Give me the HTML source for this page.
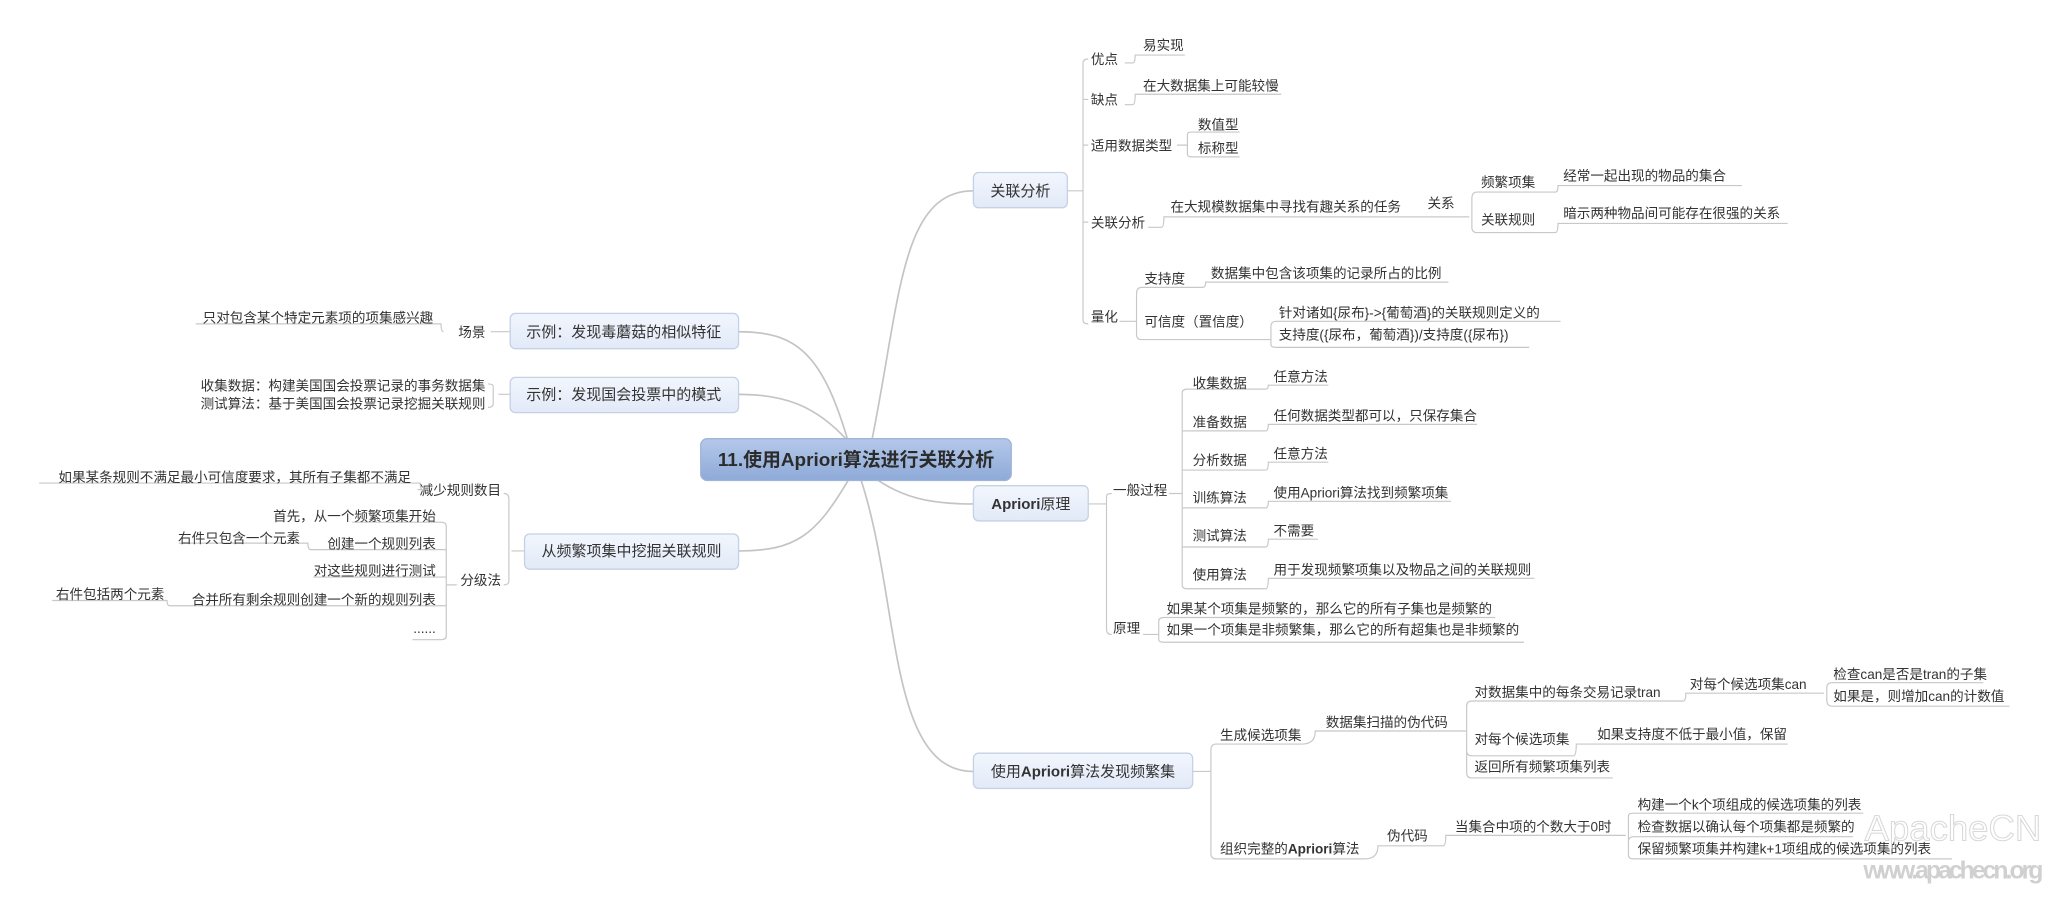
<!DOCTYPE html>
<html><head><meta charset="utf-8"><style>
html,body{margin:0;padding:0;background:#fff;width:2046px;height:897px;overflow:hidden}
svg text{font-family:"Liberation Sans","Noto Sans CJK SC",sans-serif;fill:#333}
</style></head><body>
<svg id="s" width="2046" height="897" viewBox="0 0 1568 687" xmlns="http://www.w3.org/2000/svg">
<defs>
<linearGradient id="cg" x1="0" y1="0" x2="0" y2="1"><stop offset="0" stop-color="#b4c8ea"/><stop offset="1" stop-color="#8eaad8"/></linearGradient>
<linearGradient id="bg" x1="0" y1="0" x2="0" y2="1"><stop offset="0" stop-color="#f2f6fd"/><stop offset="1" stop-color="#e2eaf8"/></linearGradient>
</defs>
<g fill="none" stroke="#c4c4c4" stroke-width="1.3">
<path d="M668,338 C690,230 690,146 746,146"/>
<path d="M670,366 C690,380 710,386 746,386"/>
<path d="M660,368 C690,460 680,591 746,591"/>
<path d="M650,338 C630,270 610,254 566,254"/>
<path d="M650,338 C625,310 600,302 566,302"/>
<path d="M650,368 C625,410 610,422 566,422"/>
</g>
<g fill="none" stroke="#c8c8c8" stroke-width="0.9" id="br">
<path d="M818,146 H830 M830,146 V48 Q830,45 834,45 M830,146 V245 Q830,248 834,248 M830,76 H834 M830,111 H834 M830,170 H834"/>
<path d="M862,48 H868 Q870,48 870,42 H908"/>
<path d="M862,80 H868 Q870,80 870,72 H982"/>
<path d="M902,111 H910 M910,111 V103 Q910,101 913,101 H950 M910,111 V118 Q910,120 913,120 H950"/>
<path d="M880,174 H890 Q892,174 892,166 H1088 M1088,166 H1126 M1128,166 V152 Q1128,147 1132,147 H1192 M1128,166 V174 Q1128,178 1132,178 H1192 M1192,147 Q1194,147 1194,142 H1335 M1192,178 Q1194,178 1194,171 H1370"/>
<path d="M858,246 H871 M871,246 V225 Q871,220 875,220 H922 Q924,220 924,216 H1110 M871,246 V256 Q871,260 875,260 H974 M974,260 V250 Q974,246 978,246 H1196 M974,260 V264 Q974,266 978,266 H1172"/>
<path d="M834,386 H848 M848,386 V380 Q848,378 852,378 M848,386 V482 Q848,486 852,486 M896,378 H906 M906,378 V301 Q906,298 910,298 H970 M906,378 V448 Q906,451 910,451 H970 M906,330 H970 M906,360 H970 M906,389 H970 M906,419 H970"/>
<path d="M970,298 Q972,298 972,295 H1018 M970,330 Q972,330 972,325 H1132 M970,360 Q972,360 972,354 H1018 M970,389 Q972,389 972,384 H1112 M970,419 Q972,419 972,413 H1010 M970,451 Q972,451 972,443 H1176"/>
<path d="M876,486 H888 M888,486 V476 Q888,473 892,473 H1146 M888,486 V490 Q888,492 892,492 H1168"/>
<path d="M914,591 H928 M928,591 V575 Q928,570 932,570 H998 M928,591 V654 Q928,658 932,658 H1046"/>
<path d="M998,570 Q1008,570 1008,560 H1124 M1124,560 V541 Q1124,537 1128,537 H1290 M1124,560 V575 Q1124,579 1128,579 H1206 M1124,560 V592 Q1124,596 1128,596 H1236 M1290,537 Q1292,537 1292,531 H1392 M1392,531 H1398 M1400,531 V527 Q1400,523 1404,523 H1520 M1400,531 V536 Q1400,541 1404,541 H1540 M1206,579 Q1208,579 1208,570 H1370"/>
<path d="M1046,658 Q1056,658 1056,648 H1106 Q1108,648 1108,640 H1246 M1248,640 V625 Q1248,623 1252,623 H1428 M1248,640 V645 Q1248,641 1252,641 H1420 M1248,640 V655 Q1248,658 1252,658 H1496"/>
<path d="M391,254 H376 M340,254 Q338,254 338,248 H150"/>
<path d="M391,302 H382 M378,302 V296 Q378,294 374,294 M378,302 V309 Q378,312 374,312"/>
<path d="M402,422 H392 M390,422 V382 Q390,378 386,378 M390,422 V445 Q390,448 386,448"/>
<path d="M320,375 H324 Q322,375 322,370 H30"/>
<path d="M350,448 H342 M342,448 V403 Q342,400 338,400 H270 M342,448 V487 Q342,490 338,490 H316 M342,421 H238 M342,442 H240 M342,464 H130 M238,421 Q236,421 236,416 H137 M130,464 Q128,464 128,460 H40"/>
</g>
<rect x="537" y="336" width="238" height="32" rx="5" fill="url(#cg)" stroke="#9fb4d8"/>
<text x="656" y="357" font-size="14.5" font-weight="bold" text-anchor="middle" style="fill:#2b2b2b">11.使用Apriori算法进行关联分析</text>
<g stroke="#c5d1e4" fill="url(#bg)">
<rect x="746" y="132" width="72" height="27" rx="4"/>
<rect x="746" y="372" width="88" height="27" rx="4"/>
<rect x="746" y="577" width="168" height="27" rx="4"/>
<rect x="391" y="240" width="175" height="27" rx="4"/>
<rect x="391" y="289" width="175" height="27" rx="4"/>
<rect x="402" y="409" width="164" height="27" rx="4"/>
</g>
<g font-size="11.5" text-anchor="middle">
<text x="782" y="150">关联分析</text>
<text x="790" y="390" font-weight="bold">Apriori<tspan font-weight="normal">原理</tspan></text>
<text x="830" y="595">使用<tspan font-weight="bold">Apriori</tspan>算法发现频繁集</text>
<text x="478" y="258">示例：发现毒蘑菇的相似特征</text>
<text x="478" y="306">示例：发现国会投票中的模式</text>
<text x="484" y="426">从频繁项集中挖掘关联规则</text>
</g>
<g font-size="10.4">
<text x="836" y="49">优点</text><text x="876" y="38">易实现</text>
<text x="836" y="80">缺点</text><text x="876" y="69">在大数据集上可能较慢</text>
<text x="836" y="115">适用数据类型</text><text x="918" y="99">数值型</text><text x="918" y="117">标称型</text>
<text x="836" y="174">关联分析</text><text x="897" y="162">在大规模数据集中寻找有趣关系的任务</text><text x="1094" y="159">关系</text>
<text x="1135" y="143">频繁项集</text><text x="1135" y="172">关联规则</text>
<text x="1198" y="138">经常一起出现的物品的集合</text><text x="1198" y="167">暗示两种物品间可能存在很强的关系</text>
<text x="836" y="246">量化</text><text x="877" y="217">支持度</text><text x="877" y="250">可信度（置信度）</text>
<text x="928" y="213">数据集中包含该项集的记录所占的比例</text>
<text x="980" y="243">针对诸如{尿布}->{葡萄酒}的关联规则定义的</text>
<text x="980" y="260">支持度({尿布，葡萄酒})/支持度({尿布})</text>
<text x="853" y="379">一般过程</text><text x="853" y="485">原理</text>
<text x="914" y="297">收集数据</text><text x="914" y="327">准备数据</text><text x="914" y="356">分析数据</text>
<text x="914" y="385">训练算法</text><text x="914" y="414">测试算法</text><text x="914" y="444">使用算法</text>
<text x="976" y="292">任意方法</text><text x="976" y="322">任何数据类型都可以，只保存集合</text><text x="976" y="351">任意方法</text>
<text x="976" y="381">使用Apriori算法找到频繁项集</text><text x="976" y="410">不需要</text><text x="976" y="440">用于发现频繁项集以及物品之间的关联规则</text>
<text x="894" y="470">如果某个项集是频繁的，那么它的所有子集也是频繁的</text>
<text x="894" y="486">如果一个项集是非频繁集，那么它的所有超集也是非频繁的</text>
<text x="935" y="567">生成候选项集</text><text x="935" y="654">组织完整的<tspan font-weight="bold">Apriori</tspan>算法</text>
<text x="1016" y="557">数据集扫描的伪代码</text>
<text x="1130" y="534">对数据集中的每条交易记录tran</text><text x="1130" y="570">对每个候选项集</text><text x="1130" y="591">返回所有频繁项集列表</text>
<text x="1295" y="528">对每个候选项集can</text><text x="1405" y="520">检查can是否是tran的子集</text><text x="1405" y="537">如果是，则增加can的计数值</text>
<text x="1224" y="566">如果支持度不低于最小值，保留</text>
<text x="1063" y="644">伪代码</text><text x="1115" y="637">当集合中项的个数大于0时</text>
<text x="1255" y="620">构建一个k个项组成的候选项集的列表</text><text x="1255" y="637">检查数据以确认每个项集都是频繁的</text><text x="1255" y="654">保留频繁项集并构建k+1项组成的候选项集的列表</text>
</g>
<g font-size="10.4" text-anchor="end">
<text x="372" y="258">场景</text><text x="332" y="247">只对包含某个特定元素项的项集感兴趣</text>
<text x="372" y="299">收集数据：构建美国国会投票记录的事务数据集</text><text x="372" y="313">测试算法：基于美国国会投票记录挖掘关联规则</text>
<text x="384" y="379">减少规则数目</text><text x="384" y="448">分级法</text>
<text x="315" y="369">如果某条规则不满足最小可信度要求，其所有子集都不满足</text>
<text x="334" y="399">首先，从一个频繁项集开始</text><text x="334" y="420">创建一个规则列表</text><text x="334" y="441">对这些规则进行测试</text>
<text x="334" y="463">合并所有剩余规则创建一个新的规则列表</text><text x="334" y="485">......</text>
<text x="230" y="416">右件只包含一个元素</text><text x="126" y="459">右件包括两个元素</text>
</g>
<text x="1429" y="644" font-size="28" style="fill:none;stroke:#d8d8d8;stroke-width:0.8">ApacheCN</text>
<text x="1428" y="673" font-size="19" font-weight="bold" style="fill:#d0d0d0" textLength="138">www.apachecn.org</text>
</svg>
</body></html>
